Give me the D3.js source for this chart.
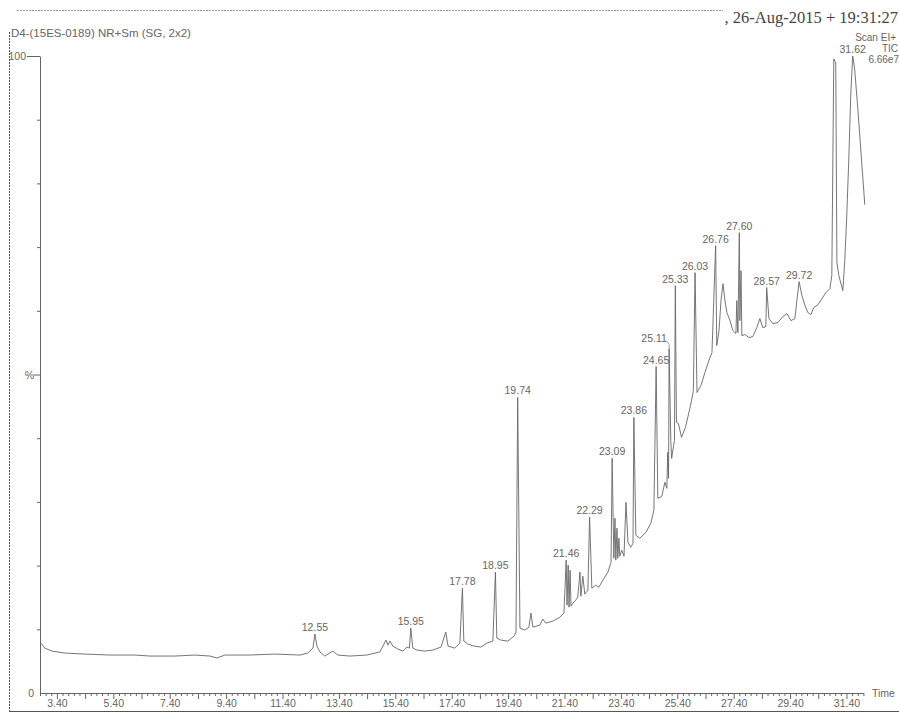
<!DOCTYPE html>
<html>
<head>
<meta charset="utf-8">
<script src="https://cdn.jsdelivr.net/npm/d3@7"></script>
<style>
  body { margin: 0; background: #fff; }
  svg { display: block; font-family: "Liberation Sans", Arial, sans-serif; }
  .lbl { font-size: 10.5px; fill: #666; }
  .axis text { font-size: 10.5px; fill: #666; font-family: "Liberation Sans", Arial, sans-serif; }
  .axis line, .axis path { stroke: #666; }
</style>
</head>
<body>
<div id="chart"></div>
<script>
// ---- data (time in min, intensity in %) ----
const retention = [
  2.83, 2.97, 3.22, 3.68, 4.39, 5.28, 6.17, 6.70, 7.58, 8.29,
  8.83, 9.07, 9.36, 10.24, 11.13, 12.02, 12.30, 12.48, 12.55, 12.62,
  12.73, 12.90, 13.19, 13.36, 13.79, 14.39, 14.85, 15.00, 15.07, 15.14,
  15.21, 15.31, 15.49, 15.67, 15.81, 15.90, 15.95, 16.02, 16.17, 16.45,
  16.73, 17.02, 17.19, 17.27, 17.51, 17.69, 17.78, 17.83, 17.97, 18.19,
  18.44, 18.65, 18.86, 18.95, 19.00, 19.14, 19.39, 19.61, 19.68, 19.74,
  19.82, 19.99, 20.14, 20.21, 20.28, 20.53, 20.63, 20.74, 20.99, 21.24,
  21.38, 21.46, 21.49, 21.53, 21.56, 21.60, 21.63, 21.70, 21.80, 21.87,
  21.95, 21.98, 22.05, 22.12, 22.23, 22.29, 22.37, 22.51, 22.62, 22.76,
  22.94, 23.05, 23.09, 23.15, 23.19, 23.22, 23.26, 23.29, 23.33, 23.36,
  23.43, 23.51, 23.58, 23.65, 23.75, 23.83, 23.86, 23.93, 24.07, 24.29,
  24.46, 24.57, 24.65, 24.71, 24.85, 24.96, 25.03, 25.06, 25.09, 25.11,
  25.17, 25.20, 25.27, 25.30, 25.33, 25.37, 25.44, 25.55, 25.69, 25.87,
  25.97, 26.03, 26.10, 26.24, 26.38, 26.52, 26.63, 26.76, 26.80, 26.88,
  26.95, 27.02, 27.09, 27.16, 27.27, 27.37, 27.48, 27.51, 27.55, 27.60,
  27.62, 27.66, 27.69, 27.80, 27.94, 28.08, 28.22, 28.33, 28.43, 28.54,
  28.57, 28.65, 28.79, 28.97, 29.14, 29.29, 29.43, 29.57, 29.64, 29.72,
  29.82, 29.93, 30.03, 30.14, 30.24, 30.39, 30.53, 30.67, 30.81, 30.88,
  30.95, 31.02, 31.06, 31.13, 31.27, 31.34, 31.41, 31.48, 31.55, 31.62,
  31.69, 31.80, 31.91, 32.05
];
const abundance = [
  7.84, 7.05, 6.58, 6.27, 6.11, 5.96, 5.96, 5.80, 5.80, 5.96,
  5.80, 5.49, 5.96, 5.96, 6.11, 5.96, 6.27, 7.05, 9.25, 7.37,
  6.43, 5.80, 6.58, 5.96, 5.80, 5.96, 6.43, 7.68, 8.31, 7.52,
  8.15, 7.37, 6.90, 6.58, 7.21, 7.05, 10.19, 7.05, 6.74, 6.58,
  6.74, 7.21, 9.56, 7.37, 7.05, 7.84, 16.46, 8.15, 7.68, 7.37,
  7.21, 7.84, 8.15, 18.97, 8.62, 8.31, 8.15, 8.93, 9.56, 46.39,
  10.19, 9.87, 10.34, 12.54, 10.34, 10.66, 11.60, 10.97, 11.29, 11.91,
  12.54, 20.85, 13.79, 20.06, 13.48, 19.28, 13.64, 14.11, 14.58, 15.05,
  18.97, 15.20, 18.34, 15.52, 16.14, 27.59, 16.46, 16.93, 16.61, 17.71,
  18.97, 20.53, 36.83, 21.16, 27.43, 20.85, 25.86, 21.16, 24.29, 21.47,
  22.41, 21.47, 29.94, 23.67, 22.88, 23.51, 43.26, 24.76, 24.29, 25.24,
  26.65, 28.68, 51.25, 30.56, 30.88, 33.07, 32.13, 37.77, 33.70, 54.08,
  39.66, 36.83, 38.87, 39.66, 63.95, 42.48, 42.32, 40.13, 41.69, 45.14,
  47.49, 65.99, 47.18, 48.28, 50.31, 52.19, 53.45, 70.22, 54.55, 56.90,
  61.60, 64.26, 61.60, 59.72, 58.46, 56.90, 56.43, 61.60, 56.58, 72.26,
  58.46, 66.30, 56.11, 56.27, 55.80, 55.96, 57.37, 58.78, 57.37, 57.52,
  63.64, 58.78, 57.99, 58.15, 59.09, 59.56, 58.46, 58.78, 61.60, 64.58,
  62.38, 60.81, 59.72, 59.40, 60.50, 60.97, 61.91, 62.85, 63.48, 65.52,
  99.53, 98.90, 67.55, 65.52, 63.17, 67.87, 74.92, 83.54, 93.73, 100.00,
  97.96, 91.85, 85.11, 76.65
];
const peakLabels = ["12.55", "15.95", "17.78", "18.95", "19.74", "21.46", "22.29",
  "23.09", "23.86", "24.65", "25.11", "25.33", "26.03", "26.76", "27.60",
  "28.57", "29.72", "31.62"];
const xTickLabels = ["3.40", "5.40", "7.40", "9.40", "11.40", "13.40", "15.40",
  "17.40", "19.40", "21.40", "23.40", "25.40", "27.40", "29.40", "31.40"];
const yTickValues = [0, 50, 100];
const yTickLabels = ["0", "%", "100"];
const title = "D4-(15ES-0189) NR+Sm (SG, 2x2)";
const stamp = ", 26-Aug-2015 + 19:31:27";
const scanInfo = ["Scan EI+", "TIC", "6.66e7"];

const W = 899, H = 713;

const svg = d3.select("#chart").append("svg")
  .attr("width", W).attr("height", H);
svg.append("rect").attr("width", W).attr("height", H).attr("fill", "#fff");

const x = d3.scaleLinear().domain([2.8, 32.0]).range([40, 863.4]);
const y = d3.scaleLinear().domain([0, 100]).range([693, 56]);

// frame bits
svg.append("line").attr("x1", 17).attr("x2", 723).attr("y1", 10.5).attr("y2", 10.5)
  .attr("stroke", "#999").attr("stroke-dasharray", "2,1");
svg.append("line").attr("x1", 9.5).attr("x2", 9.5).attr("y1", 32).attr("y2", 712)
  .attr("stroke", "#555").attr("stroke-dasharray", "2,1");
svg.append("line").attr("x1", 9).attr("x2", W).attr("y1", 711.5).attr("y2", 711.5)
  .attr("stroke", "#555");

// header texts
svg.append("text").attr("class", "lbl").attr("x", 11).attr("y", 37)
  .style("font-size", "11.5px").text(title);
svg.append("text").attr("x", 898).attr("y", 23).attr("text-anchor", "end")
  .style("font-family", "'Liberation Serif', 'Times New Roman', serif")
  .style("font-size", "16.5px").attr("fill", "#444").text(stamp);
svg.append("text").attr("class", "lbl").attr("x", 896).attr("y", 41)
  .style("font-size", "10px").attr("text-anchor", "end").text(scanInfo[0]);
svg.append("text").attr("class", "lbl").attr("x", 898).attr("y", 52)
  .style("font-size", "10px").attr("text-anchor", "end").text(scanInfo[1]);
svg.append("text").attr("class", "lbl").attr("x", 899).attr("y", 63)
  .style("font-size", "10px").attr("text-anchor", "end").text(scanInfo[2]);

// x axis: minor ticks every 0.2 min, taller every 1 min, labels every 2 min
const allTicks = d3.range(0, 147).map(i => +(2.8 + i * 0.2).toFixed(2));
const xAxis = svg.append("g").attr("class", "axis")
  .attr("transform", `translate(0,${y(0)})`)
  .call(d3.axisBottom(x).tickValues(allTicks).tickSize(3).tickSizeOuter(0).tickFormat(""));
xAxis.selectAll(".tick line")
  .attr("y2", (d, i) => ((i - 3) % 5 === 0 ? 6 : 3));
svg.append("g").attr("class", "axis")
  .attr("transform", `translate(0,${y(0)})`)
  .call(d3.axisBottom(x).tickValues(xTickLabels.map(Number)).tickSize(0)
    .tickPadding(7).tickFormat((d, i) => xTickLabels[i]))
  .call(g => g.select(".domain").remove());
svg.append("text").attr("class", "lbl").attr("x", 872).attr("y", 697).text("Time");

// y axis
const yAxis = svg.append("g").attr("class", "axis")
  .attr("transform", `translate(${x(2.8)},0)`)
  .call(d3.axisLeft(y).tickValues(d3.range(0, 101, 10)).tickSize(3).tickSizeOuter(0).tickFormat(""));
yAxis.selectAll(".tick line")
  .attr("x2", d => (d === 100 ? -13 : d === 50 ? -6 : d === 0 ? 0 : -3));
yTickValues.forEach((v, i) => {
  const xx = v === 100 ? 26 : 34;
  svg.append("text").attr("class", "lbl")
    .attr("x", xx).attr("y", y(v) + 4)
    .attr("text-anchor", "end").text(yTickLabels[i]);
});

// chromatogram trace
const pts = retention.map((t, i) => [t, abundance[i]]);
svg.append("path")
  .datum(pts)
  .attr("fill", "none")
  .attr("stroke", "#666")
  .attr("stroke-width", 0.9)
  .attr("d", d3.line().x(d => x(d[0])).y(d => y(d[1])));

// peak labels
peakLabels.forEach(lab => {
  const t = +lab;
  const i = d3.minIndex(retention, r => Math.abs(r - t));
  const px = x(retention[i]), py = y(abundance[i]);
  if (lab === "25.11") {
    // label pushed left with a short leader
    svg.append("text").attr("class", "lbl").attr("x", px - 15).attr("y", py - 7)
      .attr("text-anchor", "middle").text(lab);
    svg.append("polyline")
      .attr("points", `${px - 3},${py - 8} ${px},${py - 4} ${px},${py}`)
      .attr("fill", "none").attr("stroke", "#888").attr("stroke-width", 0.8);
  } else {
    svg.append("text").attr("class", "lbl").attr("x", px).attr("y", py - 3)
      .attr("text-anchor", "middle").text(lab);
  }
});
</script>
</body>
</html>
